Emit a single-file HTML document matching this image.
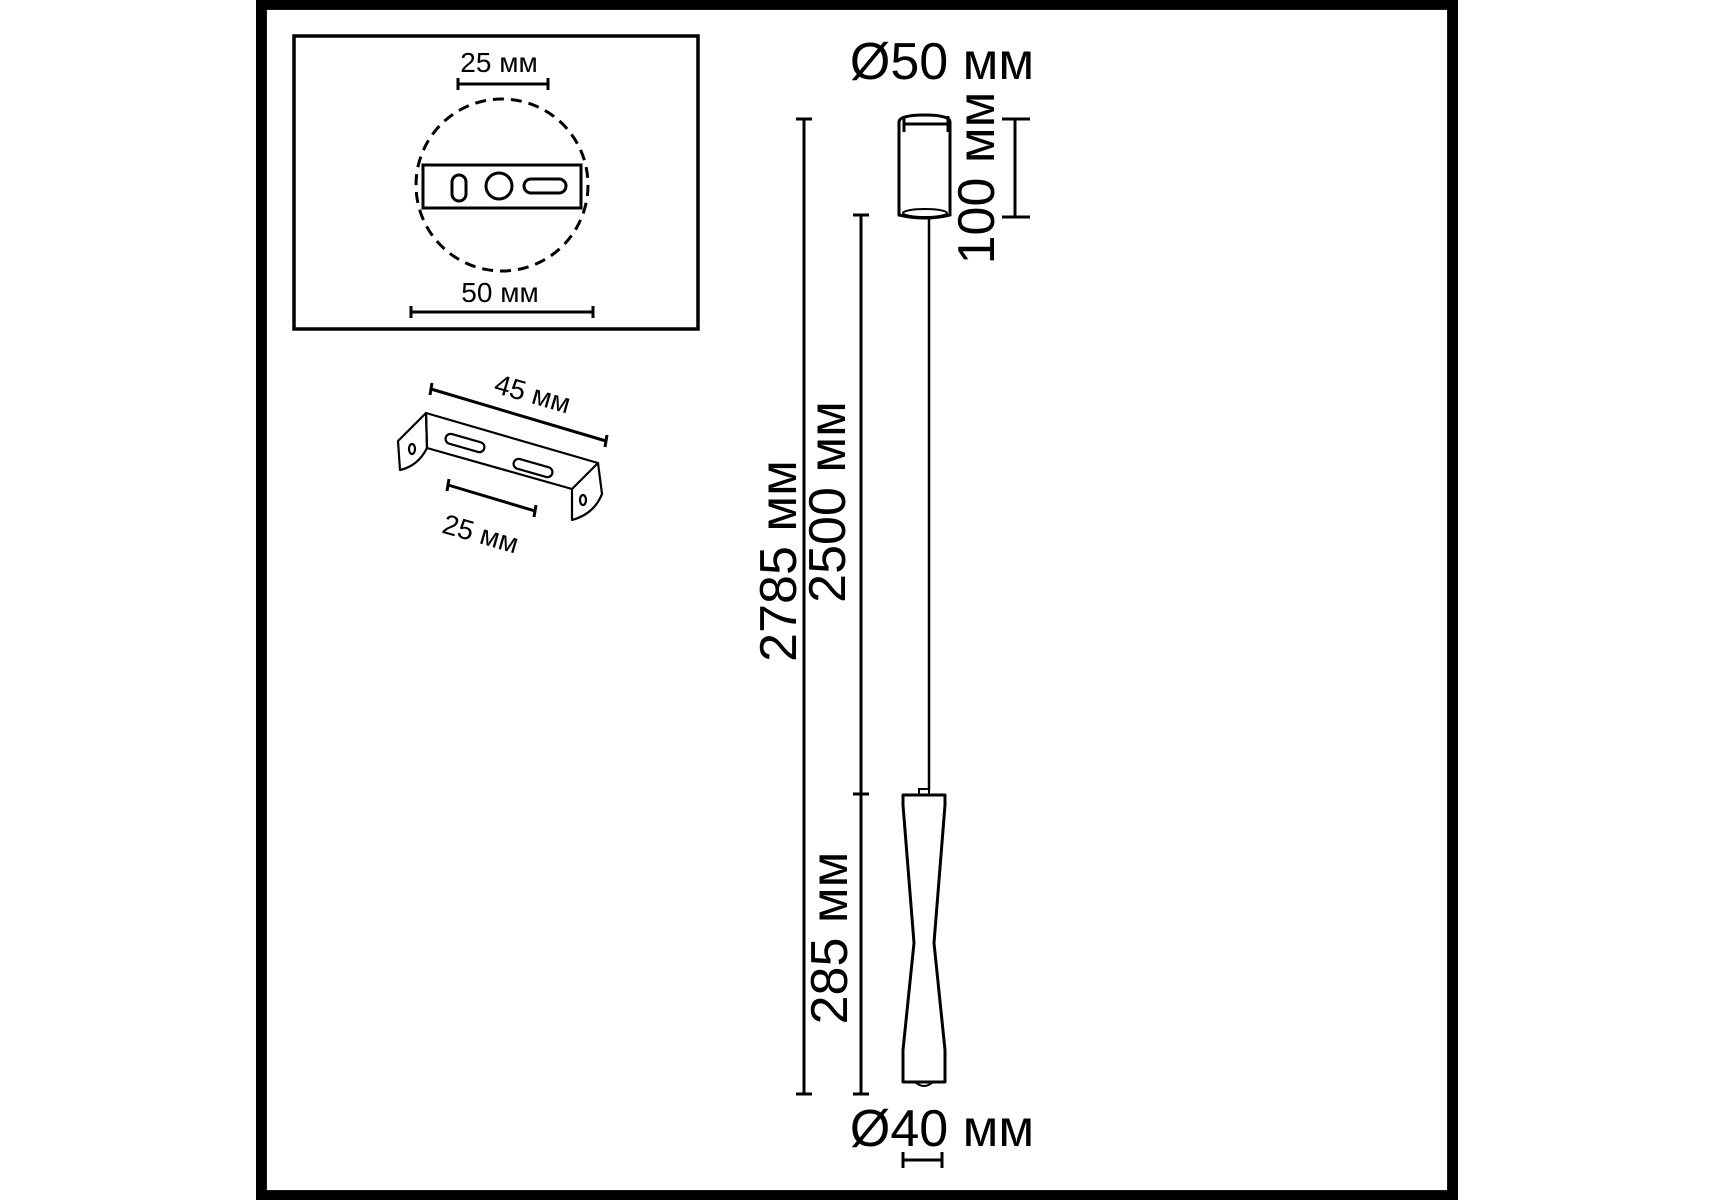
<!DOCTYPE html>
<html><head><meta charset="utf-8"><style>
html,body{margin:0;padding:0;background:#fff;}
svg{display:block;}
text{font-family:"Liberation Sans",sans-serif;fill:#000;}
</style></head><body>
<svg width="1715" height="1200" viewBox="0 0 1715 1200" xmlns="http://www.w3.org/2000/svg">
<rect x="262" y="5" width="1190" height="1190" fill="none" stroke="#000" stroke-width="12"/>
<rect x="267.5" y="10.5" width="1179" height="1179" fill="none" stroke="#fff" stroke-width="1.2"/>
<g stroke="#000" stroke-width="3" fill="none">
<rect x="294" y="36" width="404" height="293" stroke-width="3.5"/>
<line x1="458" y1="84" x2="548" y2="84"/><line x1="458" y1="78" x2="458" y2="90"/><line x1="548" y1="78" x2="548" y2="90"/>
<circle cx="502" cy="185" r="86" stroke-dasharray="11 7"/>
<rect x="423" y="165" width="158" height="43" fill="#fff"/>
<rect x="452" y="175" width="14" height="26" rx="7"/>
<circle cx="499" cy="186" r="13"/>
<rect x="524" y="179" width="42" height="14" rx="7"/>
<line x1="411" y1="312" x2="593" y2="312"/><line x1="411" y1="306" x2="411" y2="318"/><line x1="593" y1="306" x2="593" y2="318"/>
<g stroke-width="2.2" stroke-linejoin="round">
<path d="M426 413 L598 463 L572 489 L427 448 Z"/>
<path d="M426 413 L398 441 L400 470 Q418 466 427 448 Z"/>
<path d="M598 463 L602 494 Q594 514 572 520 L572 489"/>
<ellipse cx="412" cy="449" rx="3" ry="5"/>
<ellipse cx="583" cy="500" rx="3" ry="5"/>
<rect x="445" y="438" width="40" height="10" rx="5" transform="rotate(16 465 443)"/>
<rect x="513" y="463" width="40" height="10" rx="5" transform="rotate(16 533 468)"/>
</g>
<line x1="431" y1="389" x2="606" y2="441"/><line x1="432" y1="383" x2="430" y2="395"/><line x1="607" y1="435" x2="605" y2="447"/>
<line x1="448" y1="485" x2="535" y2="511"/><line x1="449" y1="479" x2="447" y2="491"/><line x1="536" y1="505" x2="534" y2="517"/>
<line x1="904" y1="124" x2="948" y2="124"/><line x1="904" y1="116" x2="904" y2="132"/><line x1="948" y1="116" x2="948" y2="132"/>
<path d="M899 215 L899 122 Q899 115 924.5 115 Q950 115 950 122 L950 215 Q925 221 899 215 Z"/>
<ellipse cx="925" cy="213" rx="22" ry="4" stroke-width="2"/>
<line x1="1015" y1="119" x2="1015" y2="217"/><line x1="1002" y1="119" x2="1030" y2="119"/><line x1="1002" y1="217" x2="1030" y2="217"/>
<line x1="929" y1="217" x2="929" y2="790" stroke-width="2.5"/>
<line x1="804" y1="119" x2="804" y2="1094"/><line x1="796" y1="119" x2="812" y2="119"/><line x1="796" y1="1094" x2="812" y2="1094"/>
<line x1="861" y1="215" x2="861" y2="1094"/><line x1="853" y1="215" x2="869" y2="215"/><line x1="853" y1="794" x2="869" y2="794"/><line x1="853" y1="1094" x2="869" y2="1094"/>
<rect x="919" y="789" width="10" height="6" stroke-width="2"/>
<path d="M903 795 L945 795 L945 805 L934 943 L945 1050 L945 1082 L903 1082 L903 1050 L914 943 L903 805 Z" stroke-linejoin="round"/>
<path d="M915 1082 Q924 1090 933 1082" stroke-width="2"/>
<line x1="903" y1="1160" x2="942" y2="1160"/><line x1="903" y1="1152" x2="903" y2="1168"/><line x1="942" y1="1152" x2="942" y2="1168"/>
</g>
<text x="499" y="72" font-size="28" text-anchor="middle">25 мм</text>
<text x="500" y="302" font-size="28" text-anchor="middle">50 мм</text>
<text x="0" y="0" font-size="28" text-anchor="middle" transform="translate(530 403) rotate(16)">45 мм</text>
<text x="0" y="0" font-size="28" text-anchor="middle" transform="translate(478 543) rotate(16)">25 мм</text>
<text x="942" y="79" font-size="52" text-anchor="middle">Ø50 мм</text>
<text x="942" y="1146" font-size="52" text-anchor="middle">Ø40 мм</text>
<text x="0" y="0" font-size="52" text-anchor="middle" transform="translate(994 178) rotate(-90)">100 мм</text>
<text x="0" y="0" font-size="52" text-anchor="middle" transform="translate(796 561) rotate(-90)">2785 мм</text>
<text x="0" y="0" font-size="52" text-anchor="middle" transform="translate(845 502) rotate(-90)">2500 мм</text>
<text x="0" y="0" font-size="52" text-anchor="middle" transform="translate(847 938) rotate(-90)">285 мм</text>
</svg>
</body></html>
